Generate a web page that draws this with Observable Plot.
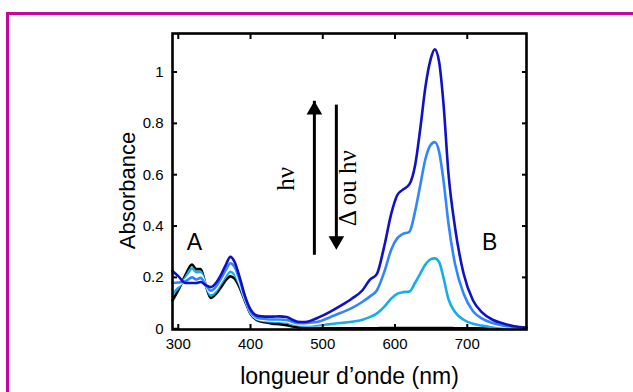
<!DOCTYPE html>
<html>
<head>
<meta charset="utf-8">
<script src="https://cdn.jsdelivr.net/npm/d3@7"></script>
<script src="https://cdn.jsdelivr.net/npm/@observablehq/plot@0.6"></script>
<style>
  html, body { margin: 0; padding: 0; background: #fff; }
  #wrap { position: relative; width: 633px; height: 392px; overflow: hidden; }
  #border { position: absolute; left: 6px; top: 12px; width: 700px; height: 500px; border: 3px solid #c6079b; box-sizing: border-box; }
  #chart { position: absolute; left: 0; top: 0; }
</style>
</head>
<body>
<div id="wrap"><div id="border"></div><div id="chart"></div></div>
<script>
// Wavelengths (nm)
const wavelengths = [292,300,310,319,325,331,338,345,352,360,366,372,378,385,392,400,410,420,430,440,450,458,465,475,485,495,510,525,540,555,565,575,585,595,603,610,620,628,635,642,649,655,661,667,674,683,695,708,720,735,750,765,782];

// Absorbance series
const blackSeries = [0.11,0.15,0.21,0.25,0.232,0.232,0.17,0.12,0.135,0.165,0.19,0.204,0.195,0.16,0.11,0.058,0.032,0.025,0.02,0.018,0.014,0.009,0.006,0.003,0.002,0.002,0.002,0.002,0.002,0.002,0.002,0.002,0.003,0.003,0.003,0.003,0.003,0.003,0.003,0.003,0.003,0.003,0.003,0.003,0.003,0.002,0.002,0.002,0.002,0.002,0.002,0.002,0.002];
const cyanSeries = [0.135,0.16,0.2,0.235,0.22,0.222,0.17,0.13,0.145,0.18,0.205,0.222,0.21,0.17,0.115,0.062,0.036,0.03,0.028,0.027,0.024,0.018,0.015,0.013,0.013,0.014,0.018,0.022,0.027,0.035,0.045,0.06,0.085,0.118,0.136,0.142,0.145,0.18,0.215,0.25,0.27,0.274,0.26,0.2,0.115,0.065,0.035,0.019,0.012,0.007,0.005,0.003,0.002];
const paleSeries = [0.16,0.17,0.19,0.215,0.205,0.21,0.17,0.14,0.155,0.19,0.218,0.238,0.225,0.18,0.12,0.064,0.039,0.034,0.032,0.031,0.029,0.022,0.018,0.017,0.018,0.021,0.031,0.042,0.053,0.07,0.085,0.105,0.15,0.21,0.24,0.255,0.26,0.32,0.39,0.45,0.49,0.5,0.475,0.39,0.26,0.16,0.085,0.043,0.026,0.015,0.009,0.005,0.003];
const mediumSeries = [0.178,0.18,0.185,0.2,0.192,0.198,0.17,0.148,0.163,0.2,0.23,0.255,0.24,0.19,0.125,0.066,0.042,0.038,0.036,0.036,0.034,0.027,0.022,0.022,0.024,0.028,0.045,0.062,0.08,0.105,0.125,0.15,0.22,0.31,0.352,0.368,0.378,0.46,0.56,0.66,0.715,0.727,0.69,0.58,0.41,0.253,0.136,0.068,0.04,0.022,0.012,0.007,0.004];
const darkSeries = [0.225,0.205,0.178,0.178,0.178,0.182,0.17,0.162,0.178,0.215,0.25,0.28,0.26,0.2,0.13,0.075,0.05,0.047,0.047,0.048,0.046,0.035,0.027,0.026,0.033,0.045,0.066,0.09,0.117,0.15,0.19,0.214,0.32,0.45,0.52,0.54,0.563,0.64,0.78,0.94,1.046,1.088,1.04,0.88,0.604,0.396,0.214,0.11,0.065,0.035,0.02,0.01,0.005];

const seriesNames = ["noir", "cyan", "pale", "moyen", "fonce"];
const seriesColors = ["#000000", "#17ade6", "#ffffff", "#3384ff", "#1010c8"];
const seriesValues = [blackSeries, cyanSeries, paleSeries, mediumSeries, darkSeries];

// Axis ticks
const xTicks = [300, 400, 500, 600, 700];
const yTicks = [0, 0.2, 0.4, 0.6, 0.8, 1];

// Annotations
const letterLabels = [{t: "A", x: 322.5, y: 0.336}, {t: "B", x: 731, y: 0.336}];
const arrowUp = {x: 488.4, y1: 0.325, y2: 0.886};
const arrowDown = {x: 518.8, y1: 0.871, y2: 0.309};
const rotatedLabels = [{t: "hν", x: 449, y: 0.584}, {t: "Δ ou hν", x: 535.4, y: 0.547}];
const xTitle = "longueur d’onde (nm)";
const yTitle = "Absorbance";

const rows = seriesNames.flatMap((name, k) =>
  wavelengths.map((w, i) => ({series: name, wl: w, abs: seriesValues[k][i]})));

const chart = Plot.plot({
  width: 633,
  height: 392,
  marginLeft: 172,
  marginRight: 107,
  marginTop: 33,
  marginBottom: 63,
  x: {domain: [292, 782], label: null},
  y: {domain: [-0.003, 1.15], label: null},
  color: {domain: seriesNames, range: seriesColors},
  style: {fontFamily: "'Liberation Sans', Arial, sans-serif", fontSize: "15px", color: "black", background: "transparent"},
  marks: [
    Plot.line(rows, {x: "wl", y: "abs", z: "series", stroke: "series", strokeWidth: 2.6, curve: "monotone-x"}),
    // Arrows
    Plot.ruleX([arrowUp], {x: "x", y1: "y1", y2: "y2", strokeWidth: 3, insetTop: 10}),
    Plot.dot([arrowUp], {x: "x", y: "y2", symbol: "triangle", r: 5.8, fill: "black", stroke: null, dy: 8.7}),
    Plot.ruleX([arrowDown], {x: "x", y1: "y1", y2: "y2", strokeWidth: 3, insetBottom: 10}),
    Plot.dot([arrowDown], {x: "x", y: "y2", symbol: "triangle", r: 5.8, fill: "black", stroke: null, rotate: 180, dy: -8.7}),
    Plot.text(rotatedLabels, {x: "x", y: "y", text: "t", rotate: -90, fontFamily: "'Liberation Serif', 'Times New Roman', serif", fontSize: 25, fill: "black"}),
    Plot.text(letterLabels, {x: "x", y: "y", text: "t", fontSize: 23, fill: "black"}),
    // Frame and axes
    Plot.frame({stroke: "black", strokeWidth: 2.6}),
    Plot.axisX(xTicks, {anchor: "bottom", tickSize: 0, tickPadding: 9, fontSize: 15, label: null}),
    Plot.axisX(xTicks, {anchor: "bottom", tickSize: -5, tickFormat: () => "", strokeWidth: 2, label: null}),
    Plot.axisX(xTicks, {anchor: "top", tickSize: -5, tickFormat: () => "", strokeWidth: 2, label: null}),
    Plot.axisY(yTicks, {anchor: "left", tickSize: 0, tickPadding: 9, fontSize: 15, tickFormat: d3.format("~g"), label: null}),
    Plot.axisY(yTicks, {anchor: "left", tickSize: -5, tickFormat: () => "", strokeWidth: 2, label: null}),
    Plot.axisY(yTicks, {anchor: "right", tickSize: -5, tickFormat: () => "", strokeWidth: 2, label: null}),
    Plot.text([xTitle], {frameAnchor: "bottom", dy: 47, lineAnchor: "middle", textAnchor: "middle", fontSize: 23, fill: "black"}),
    Plot.text([yTitle], {frameAnchor: "left", dx: -45, dy: 9, rotate: -90, textAnchor: "middle", lineAnchor: "middle", fontSize: 22, fill: "black"})
  ]
});
document.getElementById("chart").appendChild(chart);
</script>
</body>
</html>
